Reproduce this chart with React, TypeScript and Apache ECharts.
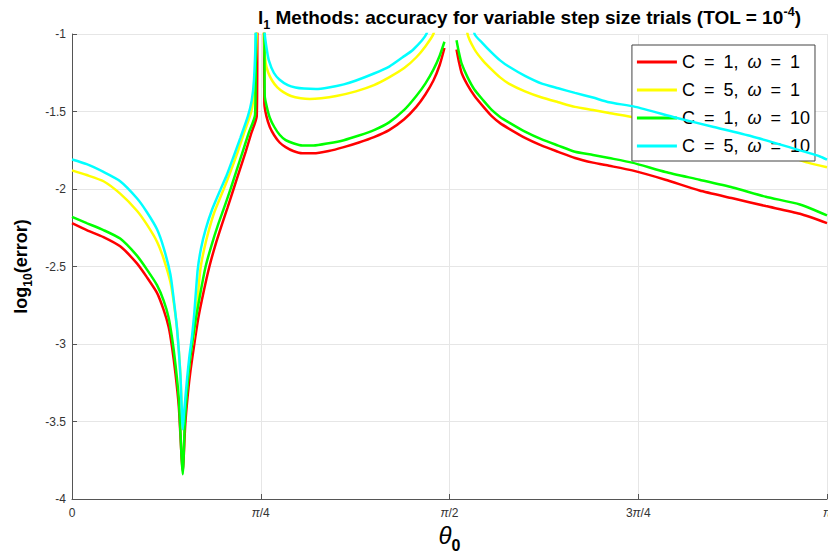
import React, { useEffect, useRef } from "react";
import * as echarts from "echarts";

// θ values are in units of π; null marks a break in the line
const redTheta = [0, 0.0195, 0.0417, 0.0638, 0.086, 0.0993, 0.1126, 0.1214, 0.128, 0.1325, 0.137, 0.1414, 0.1467,
  0.150, 0.1535, 0.157, 0.162, 0.167, 0.1745, 0.182, 0.190, 0.1985, 0.206, 0.214, 0.222, 0.230, 0.2375, 0.2447, 0.2462,
  0.2535, 0.2548, 0.2575, 0.262, 0.268, 0.275, 0.283, 0.293, 0.305, 0.320, 0.340, 0.360, 0.380, 0.400, 0.420, 0.440, 0.456, 0.468, 0.4787, 0.487, 0.4933, 0.5,
  0.5093, 0.5125, 0.516, 0.524, 0.5332, 0.545, 0.5559, 0.567, 0.5785, 0.600, 0.6223, 0.644, 0.6662, 0.690, 0.7114, 0.742, 0.7859, 0.8311, 0.875, 0.9189, 0.9641, 1.0];
const redLog = [-2.22, -2.265, -2.31, -2.37, -2.48, -2.57, -2.67, -2.78, -2.89, -3.02, -3.19, -3.40, -3.82,
  -3.52, -3.32, -3.17, -3.0, -2.84, -2.66, -2.50, -2.36, -2.23, -2.12, -2.00, -1.88, -1.76, -1.64, -1.53, -0.5,
  -0.5, -1.45, -1.53, -1.60, -1.655, -1.70, -1.73, -1.755, -1.77, -1.77, -1.755, -1.73, -1.70, -1.665, -1.62, -1.55, -1.47, -1.39, -1.30, -1.20, -1.09, null,
  -1.10, -1.18, -1.25, -1.33, -1.40, -1.47, -1.53, -1.575, -1.61, -1.67, -1.72, -1.76, -1.80, -1.83, -1.85, -1.88, -1.94, -2.01, -2.06, -2.11, -2.16, -2.22];

const yellowTheta = [0, 0.0195, 0.0417, 0.0638, 0.086, 0.0993, 0.1126, 0.1214, 0.1303, 0.1347, 0.1391, 0.1436, 0.1467,
  0.150, 0.154, 0.1575, 0.161, 0.165, 0.170, 0.1745, 0.1805, 0.1885, 0.201, 0.209, 0.2181, 0.227, 0.2375, 0.2415, 0.2447, 0.246,
  0.2527, 0.254, 0.2566, 0.260, 0.265, 0.272, 0.280, 0.290, 0.303, 0.315, 0.330, 0.350, 0.376, 0.400, 0.420, 0.440, 0.4561, 0.468, 0.4787, 0.490, 0.5,
  0.5213, 0.5239, 0.5332, 0.544, 0.5559, 0.567, 0.5785, 0.600, 0.6223, 0.644, 0.6662, 0.690, 0.7114, 0.746, 0.80, 0.85, 0.90, 0.95, 0.9747, 1.0];
const yellowLog = [-1.88, -1.91, -1.95, -2.03, -2.14, -2.23, -2.34, -2.45, -2.60, -2.73, -2.90, -3.20, -3.54,
  -3.40, -3.20, -3.05, -2.95, -2.78, -2.52, -2.40, -2.28, -2.15, -2.00, -1.90, -1.78, -1.65, -1.50, -1.35, -1.0, -0.5,
  -0.5, -1.0, -1.19, -1.25, -1.30, -1.345, -1.375, -1.40, -1.415, -1.42, -1.415, -1.40, -1.37, -1.33, -1.28, -1.22, -1.15, -1.08, -1.0, -0.8, null,
  -0.8, -1.0, -1.10, -1.17, -1.23, -1.28, -1.32, -1.37, -1.41, -1.44, -1.47, -1.49, -1.51, -1.54, -1.60, -1.66, -1.72, -1.79, -1.83, -1.86];

const greenTheta = [0, 0.0195, 0.0417, 0.0638, 0.086, 0.0993, 0.1126, 0.1214, 0.128, 0.1325, 0.137, 0.1414, 0.1467,
  0.1495, 0.1525, 0.155, 0.159, 0.164, 0.1705, 0.177, 0.185, 0.1935, 0.2015, 0.210, 0.218, 0.226, 0.234, 0.2425, 0.245,
  0.254, 0.2553, 0.258, 0.262, 0.268, 0.275, 0.283, 0.293, 0.305, 0.320, 0.340, 0.360, 0.380, 0.400, 0.420, 0.440, 0.456, 0.468, 0.4787, 0.487, 0.4933, 0.5,
  0.5093, 0.5125, 0.516, 0.524, 0.5332, 0.545, 0.5559, 0.567, 0.5785, 0.600, 0.6223, 0.644, 0.6662, 0.690, 0.7114, 0.742, 0.7859, 0.8311, 0.875, 0.9189, 0.9641, 1.0];
const greenLog = [-2.18, -2.22, -2.265, -2.32, -2.43, -2.52, -2.62, -2.72, -2.83, -2.96, -3.13, -3.35, -3.84,
  -3.50, -3.30, -3.16, -3.0, -2.84, -2.66, -2.50, -2.36, -2.23, -2.12, -2.00, -1.88, -1.76, -1.64, -1.52, -0.5,
  -0.5, -1.40, -1.47, -1.54, -1.60, -1.65, -1.685, -1.705, -1.72, -1.72, -1.705, -1.685, -1.655, -1.62, -1.57, -1.49, -1.40, -1.32, -1.23, -1.14, -1.05, null,
  -1.04, -1.12, -1.19, -1.28, -1.36, -1.43, -1.49, -1.535, -1.57, -1.63, -1.68, -1.72, -1.76, -1.78, -1.80, -1.83, -1.89, -1.94, -1.99, -2.05, -2.10, -2.17];

const cyanTheta = [0, 0.0195, 0.0417, 0.0638, 0.086, 0.0993, 0.1126, 0.1214, 0.1303, 0.1347, 0.1391, 0.1436, 0.1467,
  0.1485, 0.1525, 0.1555, 0.159, 0.162, 0.1665, 0.171, 0.177, 0.185, 0.197, 0.205, 0.2141, 0.223, 0.233, 0.238, 0.241, 0.2434, 0.245,
  0.254, 0.2553, 0.258, 0.2607, 0.2673, 0.275, 0.2859, 0.296, 0.3072, 0.3231, 0.340, 0.360, 0.3763, 0.400, 0.4202, 0.438, 0.4521, 0.4694, 0.480, 0.5,
  0.5293, 0.5332, 0.544, 0.5559, 0.567, 0.5785, 0.600, 0.6223, 0.644, 0.6662, 0.690, 0.7114, 0.746, 0.80, 0.85, 0.90, 0.95, 0.9907, 1.0];
const cyanLog = [-1.81, -1.84, -1.89, -1.95, -2.06, -2.15, -2.26, -2.38, -2.55, -2.71, -2.90, -3.20, -3.55,
  -3.44, -3.22, -3.08, -2.95, -2.80, -2.52, -2.38, -2.26, -2.14, -2.00, -1.91, -1.79, -1.67, -1.53, -1.43, -1.30, -1.0, -0.5,
  -0.5, -1.0, -1.10, -1.17, -1.25, -1.295, -1.33, -1.345, -1.352, -1.355, -1.345, -1.325, -1.30, -1.255, -1.21, -1.15, -1.10, -1.0, -0.8, null,
  -0.8, -1.0, -1.06, -1.12, -1.17, -1.21, -1.27, -1.32, -1.35, -1.38, -1.41, -1.44, -1.47, -1.54, -1.60, -1.66, -1.73, -1.79, -1.81];

const seriesNames = ["C = 1, ω = 1", "C = 5, ω = 1", "C = 1, ω = 10", "C = 5, ω = 10"];
const seriesColors = ["#ff0000", "#ffff00", "#00ff00", "#00ffff"];
const xTickLabels = ["0", "{p|π}/4", "{p|π}/2", "3{p|π}/4", "{p|π}"];
const yTicks = [-4, -3.5, -3, -2.5, -2, -1.5, -1];

function zip(xs: number[], ys: (number | null)[]) {
  return xs.map((x, i) => [x, ys[i] === null ? "-" : ys[i]]);
}

export default function App() {
  const ref = useRef<HTMLDivElement>(null);
  useEffect(() => {
    if (!ref.current) return;
    const chart = echarts.init(ref.current, null, { renderer: "svg", width: 828, height: 553 });
    const font = "Liberation Sans, Arial, sans-serif";
    const datasets = [zip(redTheta, redLog), zip(yellowTheta, yellowLog), zip(greenTheta, greenLog), zip(cyanTheta, cyanLog)];
    const legendText = (name: string) =>
      name.split(" ").map((w) => w.replace("ω", "{w|ω}")).join("{g| }");
    chart.setOption({
      animation: false,
      backgroundColor: "#ffffff",
      title: {
        text: "{b|l}{s|1}{b| Methods: accuracy for variable step size trials (TOL = 10}{u|-4}{b|)}",
        left: 253,
        top: 0,
        textStyle: {
          rich: {
            b: { fontFamily: font, fontWeight: "bold", fontSize: 19, color: "#000", lineHeight: 22, verticalAlign: "bottom" },
            s: { fontFamily: font, fontWeight: "bold", fontSize: 12.5, color: "#000", lineHeight: 22, verticalAlign: "bottom", padding: [0, 0, -4, 0] },
            u: { fontFamily: font, fontWeight: "bold", fontSize: 12.5, color: "#000", lineHeight: 22, verticalAlign: "bottom", padding: [0, 0, 9, 0] },
          },
        },
      },
      grid: { left: 72, right: 1, top: 34, bottom: 54, containLabel: false, outerBoundsMode: "none" },
      legend: {
        orient: "vertical",
        right: 13,
        top: 45,
        backgroundColor: "#ffffff",
        borderColor: "#444",
        borderWidth: 1,
        borderRadius: 0,
        padding: [7, 5, 5, 5],
        itemWidth: 40,
        itemHeight: 3,
        itemGap: 8,
        icon: "rect",
        data: seriesNames,
        formatter: legendText,
        textStyle: {
          fontFamily: font,
          fontSize: 18,
          color: "#000",
          lineHeight: 20,
          rich: {
            w: { fontFamily: font, fontSize: 18, fontStyle: "italic", color: "#000", lineHeight: 20 },
            g: { fontFamily: font, fontSize: 18, color: "#000", lineHeight: 20, width: 9 },
          },
        },
      },
      xAxis: {
        type: "value",
        min: 0,
        max: 1,
        interval: 0.25,
        name: "{t|θ}{s|0}",
        nameLocation: "middle",
        nameGap: 8,
        nameTextStyle: {
          rich: {
            t: { fontFamily: font, fontStyle: "italic", fontSize: 24, color: "#000", verticalAlign: "bottom", lineHeight: 28 },
            s: { fontFamily: font, fontWeight: "bold", fontSize: 16, color: "#000", verticalAlign: "bottom", lineHeight: 28, padding: [0, 0, -6, 0] },
          },
        },
        axisLine: { lineStyle: { color: "#555", width: 1 } },
        axisTick: { inside: true, length: 5, lineStyle: { color: "#555" } },
        splitLine: { show: true, lineStyle: { color: "#e6e6e6", width: 1 } },
        axisLabel: {
          margin: 8,
          fontFamily: font,
          fontSize: 12,
          color: "#333",
          formatter: (v: number) => xTickLabels[Math.round(v / 0.25)],
          rich: { p: { fontFamily: font, fontSize: 12, fontStyle: "italic", color: "#333" } },
        },
      },
      yAxis: {
        type: "value",
        min: -4,
        max: -1,
        interval: 0.5,
        name: "{a|log}{s|10}{a|(error)}",
        nameLocation: "middle",
        nameGap: 31,
        nameRotate: 90,
        nameTextStyle: {
          rich: {
            a: { fontFamily: font, fontWeight: "bold", fontSize: 18, color: "#000", verticalAlign: "bottom", lineHeight: 24 },
            s: { fontFamily: font, fontWeight: "bold", fontSize: 12, color: "#000", verticalAlign: "bottom", lineHeight: 24, padding: [0, 0, -4, 0] },
          },
        },
        axisLine: { show: true, lineStyle: { color: "#555", width: 1 } },
        axisTick: { show: true, inside: true, length: 5, lineStyle: { color: "#555" } },
        splitLine: { show: true, lineStyle: { color: "#e6e6e6", width: 1 } },
        axisLabel: {
          margin: 6,
          fontFamily: font,
          fontSize: 12,
          color: "#333",
          formatter: (v: number) => (yTicks.includes(v) ? String(v) : ""),
        },
      },
      series: seriesNames.map((name, i) => ({
        name,
        type: "line",
        data: datasets[i],
        showSymbol: false,
        symbol: "none",
        clip: true,
        connectNulls: false,
        smooth: 0.2,
        color: seriesColors[i],
        lineStyle: { color: seriesColors[i], width: 2.5 },
        z: 2 + i,
      })),
    });
    return () => chart.dispose();
  }, []);
  return <div ref={ref} style={{ width: 828, height: 553, position: "absolute", left: 0, top: 0 }} />;
}
